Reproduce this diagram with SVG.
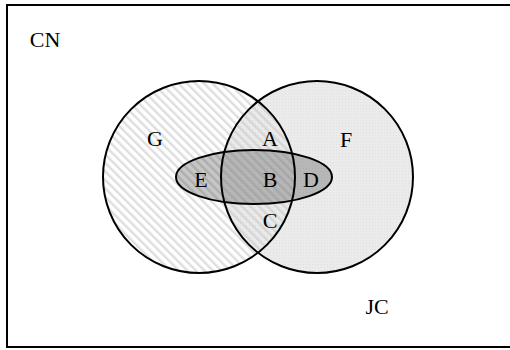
<svg xmlns="http://www.w3.org/2000/svg" width="510" height="350" viewBox="0 0 510 350">
  <defs>
    <pattern id="hatch" width="6" height="6" patternUnits="userSpaceOnUse" patternTransform="rotate(-45)">
      <rect x="0" y="0" width="2.4" height="6" fill="#c8c8c8" fill-opacity="0.6"/>
    </pattern>
    <pattern id="dots" width="3" height="3" patternUnits="userSpaceOnUse">
      <rect width="3" height="3" fill="#ebebeb"/>
      <rect width="1" height="1" fill="#e0e0e0"/>
    </pattern>
  </defs>
  <style>
    .outline { fill: none; stroke: #000; stroke-width: 2; }
    .lbl { font-family: "Liberation Serif", "Times New Roman", serif; font-size: 22px; fill: #000; text-anchor: middle; }
  </style>
  <rect x="0" y="0" width="510" height="350" fill="#fff"/>
  <g id="universe">
    <rect x="7" y="5" width="510" height="342" class="outline" stroke-width="2.4"/>
    <text class="lbl" x="45" y="47">CN</text>
  </g>
  <g id="circleG">
    <circle cx="199" cy="177" r="96" fill="#fff"/>
  </g>
  <g id="circleJC">
    <circle cx="317" cy="177" r="96" fill="url(#dots)"/>
  </g>
  <circle cx="199" cy="177" r="96" fill="url(#hatch)"/>
  <g id="ellipse">
    <ellipse cx="254" cy="177" rx="78" ry="27" fill="#000" fill-opacity="0.22"/>
  </g>
  <g id="outlines">
    <circle cx="199" cy="177" r="96" class="outline"/>
    <circle cx="317" cy="177" r="96" class="outline"/>
    <ellipse cx="254" cy="177" rx="78" ry="27" class="outline"/>
  </g>
  <g id="labels">
    <text class="lbl" x="155" y="146">G</text>
    <text class="lbl" x="270" y="146">A</text>
    <text class="lbl" x="346" y="147">F</text>
    <text class="lbl" x="201" y="187">E</text>
    <text class="lbl" x="270" y="187">B</text>
    <text class="lbl" x="311" y="187">D</text>
    <text class="lbl" x="270" y="228">C</text>
    <text class="lbl" x="377" y="314">JC</text>
  </g>
</svg>
